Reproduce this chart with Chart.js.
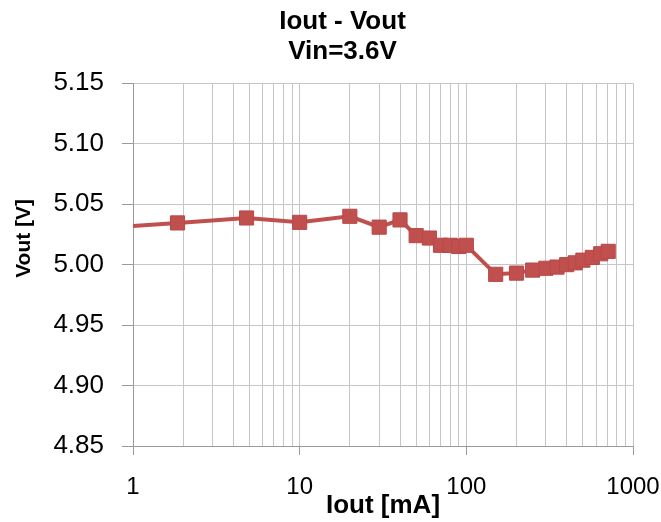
<!DOCTYPE html>
<html>
<head>
<meta charset="utf-8">
<script src="https://cdn.jsdelivr.net/npm/chart.js@4/dist/chart.umd.min.js"></script>
<style>
  body { margin: 0; background: #fff; }
  canvas { display: block; }
</style>
</head>
<body>
<canvas id="ivChart" width="661" height="522"></canvas>
<script>
// Iout [mA] vs Vout [V]
const ioutMA = [1, 1.85, 4.8, 10, 20, 30, 40, 50, 60, 70, 80, 90, 100,
  150, 200, 250, 300, 350, 400, 450, 500, 570, 640, 710];
const voutV = [5.032, 5.0345, 5.0386, 5.035, 5.040, 5.031, 5.037, 5.024, 5.022, 5.016, 5.016, 5.015, 5.016,
  4.992, 4.993, 4.9955, 4.997, 4.998, 5.000, 5.0015, 5.0037, 5.006, 5.009, 5.011];

// axis ticks
const decadeLabels = [1, 10, 100, 1000];
const minorSteps = [2, 3, 4, 5, 6, 7, 8, 9];
const yMin = 4.85, yMax = 5.15, yStep = 0.05;

// gridline values for the log axis: decades plus 2..9 in each
const xGridValues = [];
decadeLabels.forEach((d, i) => {
  xGridValues.push(d);
  if (i < decadeLabels.length - 1) minorSteps.forEach(m => xGridValues.push(d * m));
});

const gridColor = '#c6c6c6';
const axisColor = '#9a9a9a';
const red = '#c0504d';

Chart.defaults.font.family = "'Liberation Sans', Arial, sans-serif";
Chart.defaults.color = '#000';

const ctx = document.getElementById('ivChart').getContext('2d');
window.ivChart = new Chart(ctx, {
  type: 'line',
  data: {
    datasets: [{
      data: ioutMA.map((x, i) => ({ x: x, y: voutV[i] })),
      borderColor: red,
      borderWidth: 4,
      backgroundColor: red,
      pointStyle: 'rect',
      // first point only starts the line at the axis, no marker there
      pointRadius: c => c.dataIndex === 0 ? 0 : 10,
      pointBorderColor: '#b9474a',
      pointBorderWidth: 1,
      tension: 0
    }]
  },
  options: {
    responsive: false,
    animation: false,
    layout: { padding: { left: 52, right: 28, top: 0, bottom: 0 } },
    plugins: {
      legend: { display: false },
      tooltip: { enabled: false },
      title: {
        display: true,
        text: ['Iout - Vout', 'Vin=3.6V'],
        color: '#000',
        font: { size: 26, weight: 'bold', lineHeight: 1.14 },
        padding: { top: 7, bottom: 17 }
      }
    },
    scales: {
      x: {
        type: 'logarithmic',
        min: 1,
        max: 1000,
        afterFit: s => {
          // fixed axis box, and let the last label hang into the margin
          s.height = 76;
          s.paddingLeft = 0;
          s.paddingRight = 0;
        },
        afterBuildTicks: s => {
          s.ticks = xGridValues.map(v => ({ value: v, major: decadeLabels.includes(v) }));
        },
        ticks: {
          autoSkip: false,
          maxRotation: 0,
          padding: 18,
          color: '#000',
          font: { size: 24 },
          callback: v => decadeLabels.includes(v) ? String(v) : ''
        },
        grid: {
          color: gridColor,
          tickLength: 9,
          tickColor: c => (c.tick && decadeLabels.includes(c.tick.value)) ? axisColor : 'rgba(0,0,0,0)'
        },
        border: { color: axisColor, width: 1 },
        title: {
          display: true,
          text: 'Iout [mA]',
          color: '#000',
          font: { size: 26, weight: 'bold' },
          padding: { top: 0, bottom: 1 }
        }
      },
      y: {
        min: yMin,
        max: yMax,
        afterFit: s => { s.width = 81; },
        ticks: {
          stepSize: yStep,
          padding: 18,
          color: '#000',
          font: { size: 26 },
          callback: v => Number(v).toFixed(2)
        },
        grid: { color: gridColor, tickLength: 11, tickColor: axisColor },
        border: { color: axisColor, width: 1 },
        title: {
          display: true,
          text: '         Vout [V]',
          color: '#000',
          font: { size: 21, weight: 'bold' },
          padding: { top: -40, bottom: 0 }
        }
      }
    }
  }
});
</script>
</body>
</html>
